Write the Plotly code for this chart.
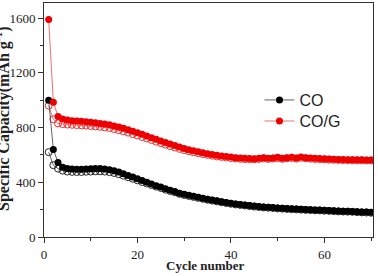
import plotly.graph_objects as go

cycles = list(range(1, 71))

co_charge = [1000, 640, 545, 510, 500, 497, 495, 495, 497, 498,
             500, 500, 497, 492, 485, 475, 462, 450, 438, 425,
             412, 400, 388, 375, 365, 352, 342, 332, 320, 312,
             305, 298, 290, 283, 276, 270, 264, 258, 252, 247,
             242, 238, 234, 230, 226, 223, 220, 217, 215, 212,
             210, 208, 206, 205, 203, 201, 200, 198, 197, 195,
             194, 192, 190, 189, 188, 187, 185, 183, 182, 180]

co_discharge = [620, 525, 500, 485, 478, 476, 475, 475, 477, 478,
                480, 480, 478, 474, 468, 459, 448, 437, 426, 414,
                402, 391, 380, 368, 358, 346, 336, 327, 315, 307,
                300, 293, 286, 279, 272, 266, 260, 254, 248, 243,
                238, 234, 230, 226, 222, 219, 216, 214, 212, 209,
                207, 205, 203, 202, 200, 198, 197, 195, 194, 192,
                191, 189, 187, 186, 185, 184, 182, 180, 179, 177]

cog_charge = [1590, 985, 880, 862, 855, 850, 848, 845, 842, 838,
              834, 830, 826, 820, 812, 803, 794, 784, 773, 762,
              750, 738, 726, 714, 702, 690, 679, 668, 657, 647,
              638, 630, 623, 616, 609, 603, 597, 592, 588, 584,
              580, 577, 575, 573, 572, 575, 580, 575, 578, 582,
              576, 580, 583, 578, 585, 580, 577, 575, 573, 572,
              570, 568, 567, 566, 565, 565, 564, 564, 563, 563]

cog_discharge = [960, 860, 830, 825, 822, 820, 818, 816, 814, 811,
                 808, 805, 801, 796, 789, 781, 772, 763, 752, 742,
                 731, 720, 709, 697, 686, 675, 664, 654, 644, 635,
                 627, 619, 612, 606, 600, 594, 589, 585, 581, 577,
                 574, 571, 569, 568, 567, 570, 574, 570, 573, 576,
                 571, 575, 578, 573, 579, 575, 572, 570, 568, 567,
                 565, 564, 563, 562, 561, 561, 560, 560, 559, 559]

fig = go.Figure()

fig.add_trace(go.Scatter(x=cycles, y=co_discharge, mode="lines+markers",
                         line=dict(color="rgba(60,60,60,0.8)", width=1),
                         marker=dict(symbol="circle-open", size=7, color="#222", line=dict(width=1)),
                         showlegend=False))
fig.add_trace(go.Scatter(x=cycles, y=cog_discharge, mode="lines+markers",
                         line=dict(color="rgba(230,80,80,0.8)", width=1),
                         marker=dict(symbol="circle-open", size=7, color="#e83030", line=dict(width=1)),
                         showlegend=False))
fig.add_trace(go.Scatter(x=cycles, y=co_charge, mode="lines+markers", name="CO",
                         legend="legend",
                         line=dict(color="rgba(60,60,60,0.8)", width=1),
                         marker=dict(symbol="circle", size=7, color="#000000")))
fig.add_trace(go.Scatter(x=cycles, y=cog_charge, mode="lines+markers", name="CO/G",
                         legend="legend2",
                         line=dict(color="rgba(230,80,80,0.8)", width=1),
                         marker=dict(symbol="circle", size=7, color="#ee0000")))

serif = "Liberation Serif, Times New Roman, serif"
legfont = dict(family="Liberation Sans, Arial, sans-serif", size=16, color="#222")

fig.update_layout(
    width=378, height=276,
    margin=dict(l=44, r=5, t=3, b=39),
    paper_bgcolor="white", plot_bgcolor="white",
    font=dict(family=serif, size=13, color="#222"),
    legend=dict(x=0.655, y=0.658, xanchor="left", yanchor="top",
                bgcolor="rgba(0,0,0,0)", font=legfont, itemwidth=30),
    legend2=dict(x=0.655, y=0.568, xanchor="left", yanchor="top",
                 bgcolor="rgba(0,0,0,0)", font=legfont, itemwidth=30),
    xaxis=dict(range=[0, 70.4], tickmode="linear", tick0=0, dtick=20,
               ticks="outside", ticklen=5, tickwidth=1, tickcolor="#333",
               minor=dict(dtick=10, ticks="outside", ticklen=3, tickcolor="#333"),
               showline=True, linecolor="#333", linewidth=1, mirror=True,
               showgrid=False, zeroline=False, automargin=False),
    yaxis=dict(range=[0, 1710], tickmode="linear", tick0=0, dtick=400,
               ticks="outside", ticklen=5, tickwidth=1, tickcolor="#333",
               minor=dict(dtick=200, ticks="outside", ticklen=3, tickcolor="#333"),
               showline=True, linecolor="#333", linewidth=1, mirror=True,
               showgrid=False, zeroline=False, automargin=False),
    annotations=[
        dict(text="<b>Specific Capacity(mAh g<sup>-1</sup>)</b>",
             xref="paper", yref="paper", x=-0.128, y=0.504,
             xanchor="center", yanchor="middle", textangle=-90,
             showarrow=False, font=dict(family=serif, size=16, color="#222")),
        dict(text="<b>Cycle number</b>",
             xref="paper", yref="paper", x=0.49, y=-0.12,
             xanchor="center", yanchor="middle",
             showarrow=False, font=dict(family=serif, size=13, color="#222")),
    ],
)

fig.write_html("out.html")
